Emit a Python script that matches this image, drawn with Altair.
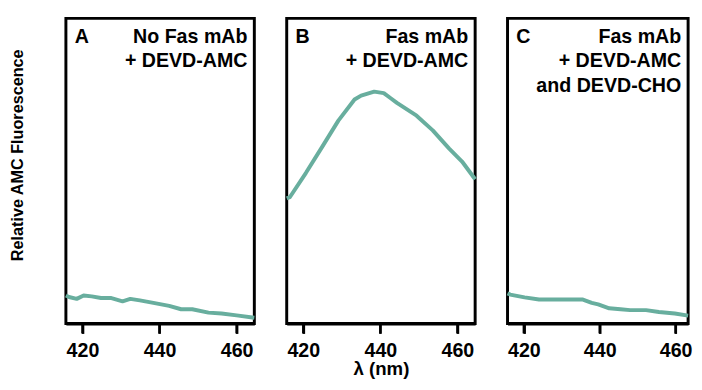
import altair as alt
import pandas as pd

# Panel A: No Fas mAb + DEVD-AMC
a_nm = [415.7, 416.5, 418.5, 420.3, 422.4, 424.8, 427.3, 430.4, 432.4, 434.9, 438.4, 442.5, 445.6, 448.5, 452.7, 456.1, 460.0, 464.6]
a_val = [9.2, 8.7, 8.1, 9.2, 8.9, 8.4, 8.4, 7.3, 8.1, 7.6, 6.8, 5.8, 4.7, 4.7, 3.6, 3.3, 2.7, 1.9]

# Panel B: Fas mAb + DEVD-AMC
b_nm = [415.7, 416.5, 420.7, 424.9, 429.1, 433.3, 435.0, 438.4, 440.9, 442.6, 444.3, 449.4, 453.6, 457.8, 461.2, 464.6]
b_val = [41.0, 41.4, 49.4, 57.9, 66.5, 73.4, 74.7, 76.0, 75.5, 73.9, 72.3, 68.1, 63.3, 57.4, 53.1, 47.3]

# Panel C: Fas mAb + DEVD-AMC and DEVD-CHO
c_nm = [415.7, 416.4, 420.2, 424.0, 430.3, 435.4, 437.9, 439.6, 442.5, 445.5, 448.0, 452.2, 455.6, 459.8, 463.3]
c_val = [9.9, 9.5, 8.6, 7.9, 7.9, 7.9, 6.8, 6.3, 5.0, 4.7, 4.4, 4.4, 3.8, 3.3, 2.6]

panel_letters = ["A", "B", "C"]
panel_lines = [
    ["No Fas mAb", "+ DEVD-AMC"],
    ["Fas mAb", "+ DEVD-AMC"],
    ["Fas mAb\u00a0", "+ DEVD-AMC", "and DEVD-CHO"],
]
x_ticks = [420, 440, 460]
y_title = "Relative AMC Fluorescence"
x_title = "\u03bb (nm)"

LINE_COLOR = "#68ae9e"
FONT = "Liberation Sans"
H = 311
TICK = 10


def panel(nm, val, letter, lines, width, domain, xtitle, ytitle):
    df = pd.DataFrame({"nm": nm, "val": val})
    x_axis_kwargs = dict(
        values=x_ticks,
        domain=True, domainColor="black", domainWidth=3,
        grid=True, gridOpacity=0,
        ticks=True, tickSize=TICK, tickWidth=2.5, tickColor="black",
        labelFontSize=20, labelFontWeight="bold",
        labelColor="black", labelPadding=8, labelFont=FONT,
        titleFontSize=19, titleFontWeight="bold", titleColor="black",
        titlePadding=-1, titleFont=FONT,
    )
    x = alt.X("nm:Q", scale=alt.Scale(domain=domain, nice=False, zero=False),
              axis=alt.Axis(**x_axis_kwargs), title=xtitle)
    if ytitle:
        y = alt.Y("val:Q", scale=alt.Scale(domain=[0, 100], nice=False),
                  axis=alt.Axis(labels=False, ticks=False, domain=False, grid=False,
                                titleFontSize=16.5, titleFontWeight="bold", titleColor="black",
                                titleFont=FONT, titlePadding=41, titleY=139),
                  title=ytitle)
    else:
        y = alt.Y("val:Q", scale=alt.Scale(domain=[0, 100], nice=False), axis=None)

    line = alt.Chart(df).mark_line(color=LINE_COLOR, strokeWidth=4,
                                   strokeCap="butt", strokeJoin="round").encode(x=x, y=y)
    tick_df = pd.DataFrame({"nm": x_ticks})
    ticks = alt.Chart(tick_df).mark_rule(color="black", strokeWidth=2.5).encode(
        x=x, y=alt.value(H), y2=alt.value(H + TICK))
    one = pd.DataFrame({"k": [0]})
    letter_mark = alt.Chart(one).mark_text(
        text=letter, align="left", baseline="alphabetic", font=FONT,
        fontSize=20, fontWeight="bold", color="black"
    ).encode(x=alt.value(9), y=alt.value(25))
    cond_mark = alt.Chart(one).mark_text(
        text=lines, align="right", baseline="alphabetic", font=FONT, lineHeight=25,
        fontSize=20, fontWeight="bold", color="black"
    ).encode(x=alt.value(width - 7), y=alt.value(25))
    return alt.layer(line, ticks, letter_mark, cond_mark).properties(width=width, height=H)


pa = panel(a_nm, a_val, panel_letters[0], panel_lines[0], 192, [415.7, 464.6], None, y_title)
pb = panel(b_nm, b_val, panel_letters[1], panel_lines[1], 192, [415.7, 464.6], x_title, None)
pc = panel(c_nm, c_val, panel_letters[2], panel_lines[2], 184, [415.7, 463.3], None, None)

chart = alt.hconcat(pa, pb, pc, spacing=25).properties(
    padding={"left": 0, "top": 5, "right": 0, "bottom": 0}
).configure(
    font=FONT,
    view=alt.ViewConfig(stroke="black", strokeWidth=3),
)

chart.save("out.html", embed_options={"renderer": "svg", "actions": False})
